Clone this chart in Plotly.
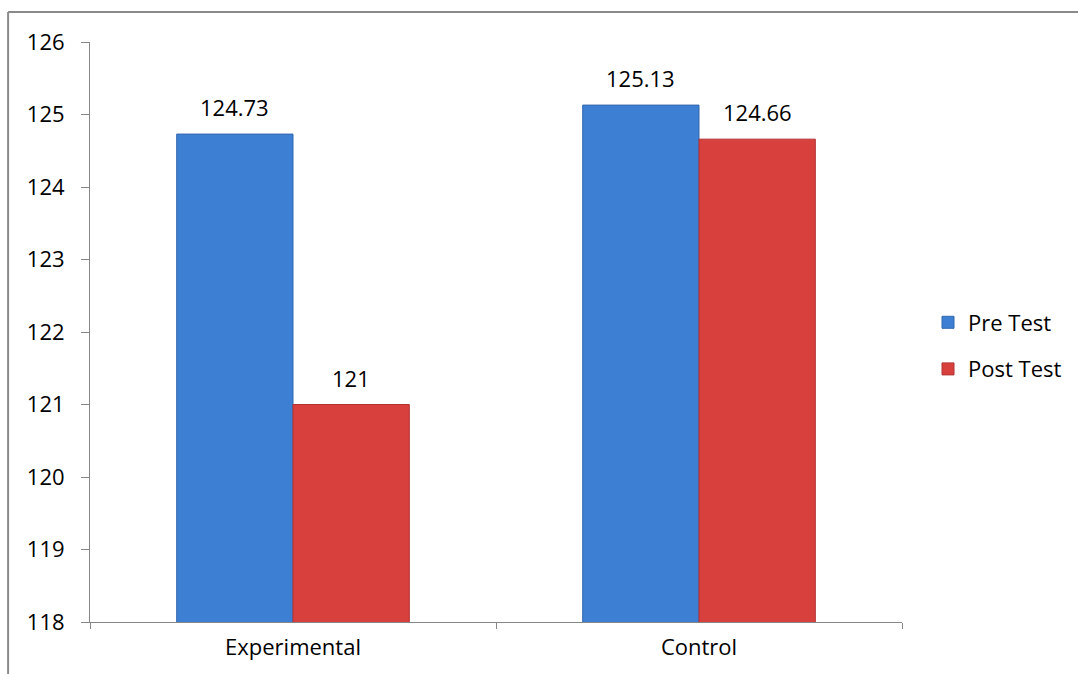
import plotly.graph_objects as go

categories = ["Experimental", "Control"]
pre_test = [124.73, 125.13]
post_test = [121, 124.66]
pre_labels = ["124.73", "125.13"]
post_labels = ["121", "124.66"]
y_ticks = [118, 119, 120, 121, 122, 123, 124, 125, 126]

FONT = "Open Sans, Carlito, Liberation Sans, sans-serif"
FS = 22
BARGAP = 0.427

fig = go.Figure()
fig.add_trace(go.Bar(
    x=categories, y=pre_test, name="Pre Test", legendgroup="pre",
    marker=dict(color="#3d7fd2", line=dict(color="#3468b0", width=1)),
))
fig.add_trace(go.Bar(
    x=categories, y=post_test, name="Post Test", legendgroup="post",
    marker=dict(color="#d8403e", line=dict(color="#b23232", width=1)),
))

# data labels placed through the category axis (group offset = +/- quarter of group width)
off = (1 - BARGAP) / 4
annotations = []
for i, (v, t) in enumerate(zip(pre_test, pre_labels)):
    annotations.append(dict(x=i - off, y=v, xref="x", yref="y", text=t, showarrow=False,
                            yanchor="middle", yshift=27, font=dict(size=FS, family=FONT, color="black")))
for i, (v, t) in enumerate(zip(post_test, post_labels)):
    annotations.append(dict(x=i + off, y=v, xref="x", yref="y", text=t, showarrow=False,
                            yanchor="middle", yshift=27, font=dict(size=FS, family=FONT, color="black")))

W, H = 1078, 674
L, R, T, B = 90, 175, 42, 52
pw, ph = W - L - R, H - T - B

def px_x(p):
    return (p - L) / pw

def px_y(p):
    return (H - B - p) / ph

fig.update_layout(
    width=W, height=H,
    margin=dict(l=L, r=R, t=T, b=B),
    paper_bgcolor="white", plot_bgcolor="white",
    barmode="group", bargap=BARGAP, bargroupgap=0,
    font=dict(family=FONT, size=FS, color="black"),
    showlegend=True,
    legend=dict(x=px_x(928), y=px_y(346), xanchor="left", yanchor="middle",
                font=dict(size=FS, family=FONT), tracegroupgap=15,
                itemwidth=30, bgcolor="rgba(0,0,0,0)"),
    annotations=annotations,
    xaxis=dict(
        type="category", tickson="boundaries", ticks="outside", ticklen=6,
        tickcolor="#868686", showline=True, linecolor="#868686", linewidth=1,
        showgrid=False, tickfont=dict(size=FS, family=FONT), fixedrange=True,
        ticklabelstandoff=6,
    ),
    yaxis=dict(
        range=[118, 126], tickvals=y_ticks, ticks="outside", ticklen=8,
        tickcolor="#868686", showline=True, linecolor="#868686", linewidth=1,
        showgrid=False, zeroline=False, tickfont=dict(size=FS, family=FONT),
        ticklabelstandoff=12,
    ),
    shapes=[
        dict(type="line", xref="paper", yref="paper",
             x0=px_x(8), x1=px_x(8), y0=px_y(12), y1=px_y(H + 5),
             line=dict(color="#8a8a8a", width=2)),
        dict(type="line", xref="paper", yref="paper",
             x0=px_x(8), x1=px_x(W + 5), y0=px_y(12), y1=px_y(12),
             line=dict(color="#8a8a8a", width=2)),
    ],
)

fig.write_html("out.html")
